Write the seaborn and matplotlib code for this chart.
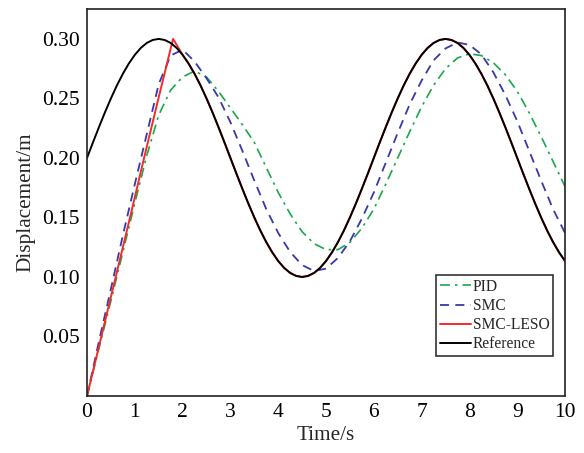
import numpy as np
import pandas as pd
import matplotlib
matplotlib.use("Agg")
import matplotlib.pyplot as plt
import seaborn as sns

# ---- data ----
time_fine = np.linspace(0, 10, 81)   # 0.125 s grid for the reference signal
time = np.linspace(0, 10, 41)        # 0.25 s grid for the controller responses

reference = [0.2000, 0.2131, 0.2259, 0.2383, 0.2500, 0.2609, 0.2707, 0.2793, 0.2866, 0.2924,
             0.2966, 0.2991, 0.3000, 0.2991, 0.2966, 0.2924, 0.2866, 0.2793, 0.2707, 0.2609,
             0.2500, 0.2383, 0.2259, 0.2131, 0.2000, 0.1869, 0.1741, 0.1617, 0.1500, 0.1391,
             0.1293, 0.1207, 0.1134, 0.1076, 0.1034, 0.1009, 0.1000, 0.1009, 0.1034, 0.1076,
             0.1134, 0.1207, 0.1293, 0.1391, 0.1500, 0.1617, 0.1741, 0.1869, 0.2000, 0.2131,
             0.2259, 0.2383, 0.2500, 0.2609, 0.2707, 0.2793, 0.2866, 0.2924, 0.2966, 0.2991,
             0.3000, 0.2991, 0.2966, 0.2924, 0.2866, 0.2793, 0.2707, 0.2609, 0.2500, 0.2383,
             0.2259, 0.2131, 0.2000, 0.1869, 0.1741, 0.1617, 0.1500, 0.1391, 0.1293, 0.1207,
             0.1134]

smc = [0.000, 0.046, 0.090, 0.135, 0.178, 0.220, 0.262, 0.286, 0.291, 0.281,
       0.267, 0.251, 0.230, 0.206, 0.181, 0.157, 0.137, 0.121, 0.110, 0.105,
       0.107, 0.116, 0.130, 0.149, 0.171, 0.196, 0.221, 0.245, 0.265, 0.282,
       0.292, 0.297, 0.295, 0.287, 0.272, 0.253, 0.231, 0.206, 0.181, 0.157,
       0.137]

pid = [0.000, 0.040, 0.080, 0.121, 0.162, 0.202, 0.236, 0.257, 0.268, 0.273,
       0.268, 0.256, 0.242, 0.228, 0.213, 0.192, 0.171, 0.153, 0.138, 0.128,
       0.123, 0.123, 0.129, 0.141, 0.157, 0.178, 0.200, 0.222, 0.243, 0.261,
       0.275, 0.284, 0.2875, 0.286, 0.280, 0.270, 0.256, 0.238, 0.218, 0.197,
       0.176]

# SMC-LESO: straight rise to the peak, then it follows the reference
leso_time = [0.0, 0.3, 0.6, 0.9, 1.2, 1.5, 1.8] + list(time_fine[16:])
leso = [0.000, 0.050, 0.100, 0.150, 0.201, 0.251, 0.300] + reference[16:]

labels = ["PID", "SMC", "SMC-LESO", "Reference"]
x_ticks = list(range(0, 11))
y_ticks = [0.05, 0.10, 0.15, 0.20, 0.25, 0.30]

# ---- style ----
sns.set_style("white")
plt.rcParams["font.family"] = ["Liberation Serif", "DejaVu Serif"]

fig = plt.figure(figsize=(5.84, 4.53), dpi=100)
ax = fig.add_axes([0.149, 0.1258, 0.8185, 0.854])

sns.lineplot(x=time, y=pid, ax=ax, color="#1aa84a", lw=1.2,
             linestyle=(0, (6, 3, 1.5, 3)), label=labels[0])
sns.lineplot(x=time, y=smc, ax=ax, color="#3838a8", lw=1.3,
             linestyle=(0, (5, 3.5)), label=labels[1])
sns.lineplot(x=leso_time, y=leso, ax=ax, color="#f52a2a", lw=1.4,
             label=labels[2], sort=False)
sns.lineplot(x=time_fine, y=reference, ax=ax, color="black", lw=1.4,
             label=labels[3])

ax.set_xlim(0, 10)
ax.set_ylim(0, 0.325)
ax.set_xticks(x_ticks)
ax.set_xticklabels([str(v) for v in x_ticks])
ax.set_yticks(y_ticks)
ax.set_yticklabels([f"{v:.2f}" for v in y_ticks])
ax.tick_params(direction="in", length=5, width=1.1, labelsize=15.5,
               colors="black", top=False, right=False, pad=5)
for s in ax.spines.values():
    s.set_color("#222222")
    s.set_linewidth(1.2)

ax.set_xlabel("Time/s", fontsize=15.3, labelpad=3)
ax.set_ylabel("Displacement/m", fontsize=15.3, labelpad=5)

leg = ax.legend(loc="upper right", bbox_to_anchor=(0.9755, 0.3127),
                borderaxespad=0, fontsize=11.2, frameon=True, fancybox=False,
                edgecolor="black", handlelength=2.0, handletextpad=0.1,
                labelspacing=0.2, borderpad=0.25)
leg.get_frame().set_linewidth(1.2)

fig.savefig("out.png", dpi=100, facecolor="white")
